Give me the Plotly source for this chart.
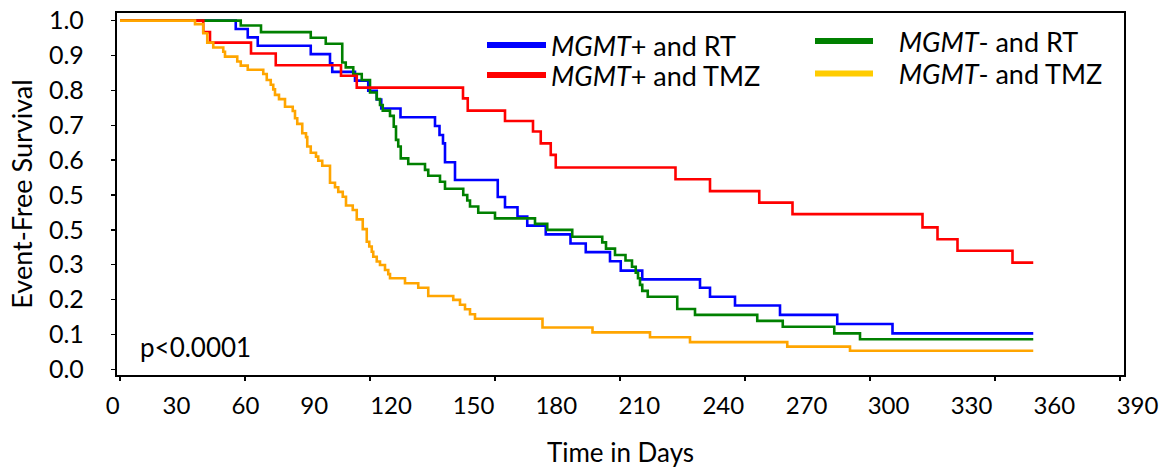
import plotly.graph_objects as go

# ---------------- data (days, event-free survival) ----------------
mgmt_pos_rt_days = [0, 46.3, 51.1, 55.1, 76.3, 84.0, 84.9, 94.0, 99.3, 102.7, 104.5, 112.2,
                    126.0, 127.8, 129.2, 130.0, 134.0, 151.1, 154.0, 159.0, 162.9, 170.3,
                    180.2, 186.3, 196.0, 200.3, 208.9, 232.0, 236.0, 246.0, 264.0, 286.9,
                    309.0, 365.3]
mgmt_pos_rt_surv = [1.0, 0.976, 0.952, 0.928, 0.904, 0.878, 0.853, 0.828, 0.799, 0.774, 0.748,
                    0.723, 0.698, 0.672, 0.648, 0.594, 0.543, 0.494, 0.465, 0.438, 0.412,
                    0.387, 0.361, 0.336, 0.310, 0.283, 0.258, 0.234, 0.208, 0.183, 0.156,
                    0.130, 0.103, 0.103]

mgmt_pos_tmz_days = [0, 33.3, 36.0, 52.4, 62.3, 88.4, 94.7, 137.2, 139.1, 154.0, 165.2, 168.3,
                     172.3, 174.3, 222.2, 236.0, 255.7, 269.0, 321.0, 327.0, 335.0, 357.0,
                     365.3]
mgmt_pos_tmz_surv = [1.0, 0.967, 0.937, 0.906, 0.872, 0.842, 0.808, 0.777, 0.742, 0.712,
                     0.682, 0.648, 0.615, 0.579, 0.545, 0.511, 0.478, 0.445, 0.407, 0.373,
                     0.340, 0.306, 0.306]

mgmt_neg_rt_days = [0, 48.3, 56.4, 76.3, 82.3, 88.9, 90.3, 93.3, 96.7, 100.0, 102.7, 104.0,
                    105.1, 108.0, 109.5, 110.4, 111.3, 112.3, 115.3, 122.0, 123.3, 128.0,
                    130.0, 137.3, 138.9, 140.0, 143.3, 150.0, 166.0, 170.9, 180.9, 192.9,
                    194.4, 198.0, 202.2, 204.8, 206.3, 207.2, 208.0, 208.9, 211.1, 222.9,
                    230.0, 254.9, 265.1, 285.7, 296.0, 365.3]
mgmt_neg_rt_surv = [1.0, 0.986, 0.967, 0.951, 0.934, 0.880, 0.866, 0.847, 0.830, 0.794, 0.775,
                    0.758, 0.742, 0.727, 0.696, 0.658, 0.639, 0.605, 0.589, 0.572, 0.555,
                    0.538, 0.518, 0.500, 0.484, 0.467, 0.449, 0.433, 0.417, 0.400, 0.380,
                    0.364, 0.346, 0.328, 0.312, 0.294, 0.277, 0.261, 0.242, 0.225, 0.208,
                    0.173, 0.156, 0.139, 0.122, 0.103, 0.086, 0.086]

mgmt_neg_tmz_days = [0, 30.0, 33.3, 34.9, 37.3, 41.3, 42.0, 46.9, 48.3, 51.1, 57.3, 58.7, 60.3,
                     61.3, 62.0, 63.6, 66.0, 69.1, 70.0, 70.9, 72.9, 74.4, 74.9, 76.3, 78.4,
                     79.3, 80.9, 84.0, 86.0, 87.3, 89.1, 90.4, 93.1, 94.7, 97.1, 98.7, 99.7,
                     100.7, 101.3, 102.7, 104.0, 106.0, 107.3, 108.0, 114.0, 119.3, 123.3,
                     133.3, 136.0, 138.0, 140.0, 142.0, 169.0, 189.0, 212.0, 228.0, 266.9,
                     292.0, 365.3]
mgmt_neg_tmz_surv = [1.0, 0.990, 0.964, 0.937, 0.923, 0.911, 0.897, 0.883, 0.871, 0.859, 0.847,
                     0.830, 0.816, 0.803, 0.787, 0.775, 0.753, 0.741, 0.720, 0.704, 0.677,
                     0.666, 0.639, 0.621, 0.610, 0.598, 0.584, 0.535, 0.522, 0.509, 0.495,
                     0.470, 0.457, 0.430, 0.402, 0.366, 0.352, 0.337, 0.323, 0.309, 0.299,
                     0.285, 0.273, 0.261, 0.247, 0.234, 0.210, 0.199, 0.185, 0.172, 0.158,
                     0.145, 0.120, 0.106, 0.092, 0.078, 0.065, 0.053, 0.053]

series_names = ["<i>MGMT</i>+ and RT", "<i>MGMT</i>+ and TMZ",
                "<i>MGMT</i>- and RT", "<i>MGMT</i>- and TMZ"]

# tick marks on the data axis (days) and the printed day labels
day_tick_marks = [0, 50, 100, 150, 200, 250, 300, 350, 400]
day_labels = ["0", "30", "60", "90", "120", "150", "180", "210", "240", "270",
              "300", "330", "360", "390"]
day_label_positions = [-2.9, 22.6, 50.2, 77.7, 108.4, 141.4, 174.5, 207.7, 241.3,
                       274.6, 307.4, 340.6, 373.7, 407.0]
surv_tick_vals = [0.0, 0.1, 0.2, 0.3, 0.4, 0.5, 0.6, 0.7, 0.8, 0.9, 1.0]
surv_tick_text = ["0.0", "0.1", "0.2", "0.3", "0.5", "0.5", "0.6", "0.7", "0.8", "0.9", "1.0"]
p_value_text = "p<0.0001"

# ---------------- styling ----------------
curve_colors = {"pos_rt": "#0000FF", "pos_tmz": "#FF0000", "neg_rt": "#008000", "neg_tmz": "#FFA500"}
legend_colors = ["#0000FF", "#FF0000", "#008000", "#FFCC00"]
FONT = "Lato"
NB = "\u00a0"

fig = go.Figure()

# draw order: blue, green, red, orange (orange on top)
curves = [
    (mgmt_pos_rt_days, mgmt_pos_rt_surv, curve_colors["pos_rt"]),
    (mgmt_neg_rt_days, mgmt_neg_rt_surv, curve_colors["neg_rt"]),
    (mgmt_pos_tmz_days, mgmt_pos_tmz_surv, curve_colors["pos_tmz"]),
    (mgmt_neg_tmz_days, mgmt_neg_tmz_surv, curve_colors["neg_tmz"]),
]
for days, surv, col in curves:
    fig.add_trace(go.Scatter(x=days, y=surv, mode="lines",
                             line=dict(shape="hv", color=col, width=2.6),
                             showlegend=False, hoverinfo="skip"))

# page body margin is removed by the post script, so screen px == figure px
W, H = 1171, 472
ML, MT, MR, MB = 100, 13, 5, 97
pw = W - ML - MR
ph = H - MT - MB
d0 = (117 - ML) / pw
d1 = (1124 - ML) / pw


def px_x(sx):
    return (sx - ML) / pw


def px_y(sy):
    return 1 - (sy - MT) / ph


# legend entries: one small legend per entry (left x of entry, top y, swatch length, text pad)
legend_ids = ["legend", "legend2", "legend3", "legend4"]
legend_pos = [(482, 21, 59, 0), (482, 51, 59, 0), (810, 17, 58, 3), (810, 49.5, 58, 3)]
for name, col, lg, (lx, ly, iw, pad) in zip(series_names, legend_colors, legend_ids, legend_pos):
    fig.add_trace(go.Scatter(x=[None], y=[None], mode="lines", name=NB * pad + name,
                             line=dict(color=col, width=6), legend=lg,
                             xaxis="x2", yaxis="y", hoverinfo="skip"))
    fig.update_layout({lg: dict(x=px_x(lx), y=px_y(ly), xanchor="left", yanchor="top",
                                bgcolor="rgba(0,0,0,0)", font=dict(size=27, family=FONT),
                                itemwidth=iw, tracegroupgap=0)})

fig.update_layout(
    width=W, height=H,
    margin=dict(l=ML, r=MR, t=MT, b=MB, autoexpand=False),
    paper_bgcolor="white", plot_bgcolor="rgba(0,0,0,0)",
    font=dict(family=FONT, color="black"),
    xaxis=dict(domain=[d0, d1], range=[-1.2, 401.6], tickvals=day_tick_marks,
               showticklabels=False, ticks="outside", ticklen=4, tickwidth=1.5,
               tickcolor="black", showline=True, linewidth=2.2, linecolor="black",
               mirror=True, showgrid=False, zeroline=False,
               title=dict(text="Time in Days", font=dict(size=26, family=FONT), standoff=64)),
    xaxis2=dict(domain=[0, 1], anchor="y", range=[-8, 418.4],
                tickvals=day_label_positions, ticktext=day_labels, ticks="",
                showline=False, showgrid=False, zeroline=False,
                tickfont=dict(size=24, family=FONT), ticklabelstandoff=14,
                ticklabeloverflow="allow"),
    yaxis=dict(domain=[0, 1], anchor="x", range=[-0.0164, 1.022],
               tickvals=surv_tick_vals, ticktext=surv_tick_text,
               ticks="outside", ticklen=4, tickwidth=1.5, tickcolor="black",
               showline=True, linewidth=2.2, linecolor="black", mirror=True,
               showgrid=False, zeroline=False, ticklabeloverflow="allow",
               tickfont=dict(size=25, family=FONT), ticklabelstandoff=22,
               title=dict(text="Event-Free Survival" + NB * 11, font=dict(size=27, family=FONT),
                          standoff=9)),
    annotations=[dict(text=p_value_text, x=7, y=0.065, xref="x", yref="y",
                      xanchor="left", yanchor="middle", showarrow=False,
                      font=dict(size=26, family=FONT))],
)

fig.write_html("out.html", config={"displayModeBar": False, "staticPlot": True},
               post_script="document.body.style.margin='0px';")
